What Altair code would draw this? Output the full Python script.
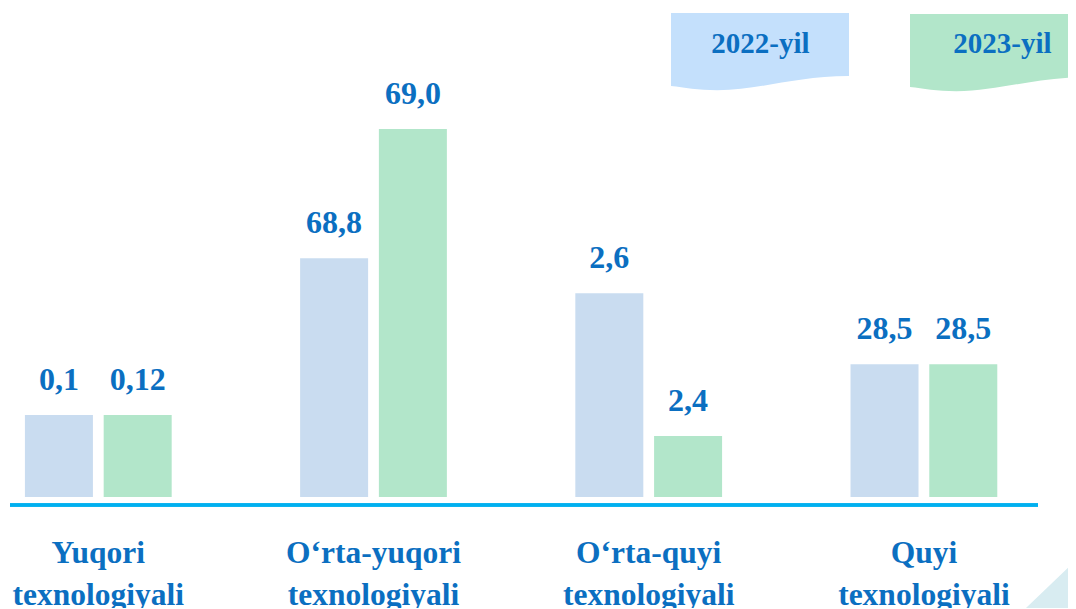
import altair as alt
import pandas as pd

# ---- data read from the infographic ----
categories = ["Yuqori\ntexnologiyali", "O‘rta-yuqori\ntexnologiyali",
              "O‘rta-quyi\ntexnologiyali", "Quyi\ntexnologiyali"]
years = ["2022-yil", "2023-yil"]
labels_2022 = ["0,1", "68,8", "2,6", "28,5"]
labels_2023 = ["0,12", "69,0", "2,4", "28,5"]
# bar heights as drawn in the source (the source bars are not to scale with
# the printed values); relative units, tallest bar = 100
heights_2022 = [22.3, 64.9, 55.4, 36.1]
heights_2023 = [22.3, 100.0, 16.6, 36.1]

bar_colors = ["#c9dcf0", "#b2e6ca"]
legend_colors = ["#c4e0fc", "#b2e6ca"]
text_color = "#0b6fc1"
FONT = "Liberation Serif"

rows = []
for c, l, h in zip(categories, labels_2022, heights_2022):
    rows.append({"cat": c, "year": years[0], "label": l, "h": h})
for c, l, h in zip(categories, labels_2023, heights_2023):
    rows.append({"cat": c, "year": years[1], "label": l, "h": h})
df = pd.DataFrame(rows)
cat_df = pd.DataFrame({"cat": categories})

W, H = 1060, 600

xs = alt.Scale(domain=categories, range=[-47.3, 1053.5], paddingInner=0, paddingOuter=0)
xo = alt.Scale(domain=years, paddingInner=0, paddingOuter=0.747)
ys = alt.Scale(domain=[0, 100], range=[489, 121])

base = alt.Chart(df)

bars = base.mark_bar(width=68).encode(
    x=alt.X("cat:N", scale=xs, axis=None, sort=categories),
    xOffset=alt.XOffset("year:N", scale=xo, sort=years),
    y=alt.Y("h:Q", scale=ys, axis=None),
    color=alt.Color("year:N", scale=alt.Scale(domain=years, range=bar_colors), legend=None),
)

values = base.mark_text(font=FONT, fontSize=32, fontWeight="bold", color=text_color,
                        baseline="alphabetic", align="center", dy=-25).encode(
    x=alt.X("cat:N", scale=xs, axis=None, sort=categories),
    xOffset=alt.XOffset("year:N", scale=xo, sort=years),
    y=alt.Y("h:Q", scale=ys, axis=None),
    text="label:N",
)

cat_text = alt.Chart(cat_df).mark_text(font=FONT, fontSize=31.5, fontWeight="bold",
                                       color=text_color, baseline="alphabetic",
                                       align="center", lineBreak="\n", lineHeight=42).encode(
    x=alt.X("cat:N", scale=xs, axis=None, sort=categories),
    y=alt.value(555),
    text="cat:N",
)

baseline = alt.Chart(cat_df).mark_rule(color="#00b0f0", strokeWidth=3).encode(
    x=alt.value(2), x2=alt.value(1030), y=alt.value(497)
)

box_path = "M -1 -0.427 L 1 -0.427 L 1 0.281 C 0.4 0.28 0 0.44 -0.48 0.44 C -0.7 0.44 -0.85 0.41 -1 0.393 Z"
legend_layers = []
for yr, col, cx, cy, tx in zip(years, legend_colors, [752, 991], [43, 44], [752.5, 994.5]):
    ld = pd.DataFrame({"year": [yr]})
    legend_layers.append(
        alt.Chart(ld).mark_point(shape=box_path, filled=True, size=178 ** 2, opacity=1,
                                 color=col, strokeWidth=0).encode(
            x=alt.value(cx), y=alt.value(cy))
    )
    legend_layers.append(
        alt.Chart(ld).mark_text(font=FONT, fontSize=29, fontWeight="bold", color=text_color,
                                baseline="middle", align="center").encode(
            x=alt.value(tx), y=alt.value(36), text="year:N")
    )

deco = alt.Chart(cat_df.head(1)).mark_point(
    shape="M -0.96 0.92 L 1 -0.96 L 1 0.92 Z", filled=True, size=52 ** 2, opacity=1,
    color="#d8ecf1", strokeWidth=0).encode(x=alt.value(1042), y=alt.value(577))

chart = alt.layer(deco, baseline, bars, values, cat_text, *legend_layers).properties(
    width=W, height=H, padding=0,
    autosize=alt.AutoSizeParams(type="none"),
    background="white",
).configure_view(stroke=None)

chart.save("out.html", embed_options={"renderer": "svg", "actions": False})
